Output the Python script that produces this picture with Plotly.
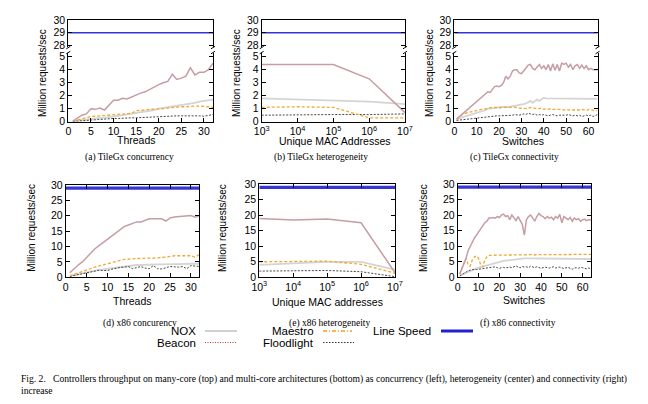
import plotly.graph_objects as go

# ---------------- data ----------------
threads = list(range(1, 33))
switches = list(range(1, 65))
macs = [1e3, 1e4, 1e5, 1e6, 1e7]
mac_ticktext = ["10<sup>3</sup>", "10<sup>4</sup>", "10<sup>5</sup>", "10<sup>6</sup>", "10<sup>7</sup>"]
line_speed = 29.0

# (a) TileGx concurrency
beacon_a = [0.05, 0.3, 0.5, 0.6, 1.0, 0.95, 1.05, 0.9,
            1.3, 1.65, 1.65, 1.8, 1.75, 1.9, 2.1, 2.2,
            2.3, 2.5, 2.7, 2.85, 3.0, 3.1, 3.65, 3.25,
            3.35, 3.5, 4.15, 3.6, 3.8, 3.8, 4.0, 4.5]
nox_a = [0.05, 0.1, 0.15, 0.2, 0.22, 0.25, 0.3, 0.32,
         0.35, 0.4, 0.45, 0.5, 0.55, 0.6, 0.68, 0.72,
         0.78, 0.85, 0.9, 1.0, 1.05, 1.1, 1.15, 1.2,
         1.3, 1.35, 1.4, 1.45, 1.55, 1.6, 1.65, 1.7]
maestro_a = [0.05, 0.15, 0.25, 0.35, 0.4, 0.42, 0.45, 0.45,
             0.5, 0.55, 0.55, 0.6, 0.6, 0.65, 0.85, 0.85,
             0.9, 0.95, 0.95, 1.0, 1.0, 1.05, 1.1, 1.1,
             1.15, 1.15, 1.2, 1.2, 1.2, 1.2, 1.15, 1.1]
flood_a = [0.02, 0.05, 0.08, 0.1, 0.12, 0.15, 0.18, 0.2,
           0.22, 0.25, 0.25, 0.28, 0.28, 0.3, 0.3, 0.32,
           0.35, 0.35, 0.38, 0.4, 0.4, 0.42, 0.42, 0.45,
           0.45, 0.45, 0.48, 0.45, 0.45, 0.42, 0.5, 0.55]

# (b) TileGx heterogeneity
beacon_b = [4.4, 4.4, 4.4, 3.3, 0.7]
nox_b = [1.8, 1.7, 1.65, 1.55, 1.35]
maestro_b = [1.1, 1.15, 1.1, 0.3, 0.3]
flood_b = [0.5, 0.55, 0.55, 0.55, 0.6]

# (c) TileGx connectivity
beacon_c = [0.2, 0.35, 0.5, 0.6, 0.75, 0.9, 1.05, 1.2,
            1.35, 1.5, 1.65, 1.8, 1.95, 2.1, 2.3, 2.25,
            2.5, 2.7, 2.75, 2.7, 2.8, 3.0, 3.5, 3.3,
            3.5, 3.9, 4.0, 4.0, 3.75, 3.7, 3.9, 4.1,
            4.35, 4.4, 4.1, 4.0, 4.2, 4.4, 4.1, 4.3,
            4.0, 4.4, 3.9, 4.45, 3.95, 4.4, 3.9, 4.5,
            4.4, 4.5, 4.2, 4.4, 4.0, 4.3, 4.4, 4.1,
            4.35, 4.1, 4.3, 4.0, 4.1, 4.0, 4.0, 4.0]
nox_c = [0.2, 0.25, 0.3, 0.35, 0.4, 0.45, 0.5, 0.55,
         0.6, 0.65, 0.7, 0.75, 0.8, 0.9, 1.0, 1.0,
         1.05, 1.05, 1.1, 1.1, 1.1, 1.1, 1.15, 1.15,
         1.15, 1.2, 1.2, 1.25, 1.3, 1.3, 1.35, 1.4,
         1.5, 1.6, 1.45, 1.55, 1.7, 1.6, 1.75, 1.85,
         1.8, 1.8, 1.8, 1.8, 1.8, 1.8, 1.8, 1.8,
         1.8, 1.8, 1.8, 1.8, 1.8, 1.8, 1.8, 1.8,
         1.8, 1.8, 1.8, 1.8, 1.8, 1.8, 1.8, 1.75]
maestro_c = [0.2, 0.35, 0.5, 0.6, 0.65, 0.7, 0.75, 0.8,
             0.85, 0.85, 0.9, 0.95, 0.95, 1.0, 1.05, 1.05,
             1.1, 1.1, 1.05, 1.05, 1.1, 1.1, 1.1, 1.1,
             1.1, 1.15, 1.1, 1.1, 1.05, 1.05, 1.0, 1.05,
             1.0, 1.1, 1.05, 1.05, 1.0, 1.0, 1.05, 0.95,
             1.0, 0.95, 1.0, 0.95, 0.95, 1.0, 0.95, 0.95,
             0.9, 0.95, 0.9, 0.95, 0.9, 0.9, 0.85, 0.9,
             0.95, 0.9, 0.85, 0.95, 0.9, 0.85, 0.85, 0.85]
flood_c = [0.1, 0.12, 0.15, 0.17, 0.2, 0.22, 0.25, 0.25,
           0.28, 0.3, 0.32, 0.33, 0.35, 0.35, 0.38, 0.4,
           0.4, 0.42, 0.45, 0.45, 0.45, 0.48, 0.5, 0.45,
           0.5, 0.5, 0.55, 0.5, 0.5, 0.55, 0.6, 0.55,
           0.65, 0.6, 0.55, 0.6, 0.5, 0.55, 0.5, 0.55,
           0.5, 0.45, 0.5, 0.55, 0.5, 0.45, 0.5, 0.5,
           0.45, 0.5, 0.55, 0.5, 0.45, 0.5, 0.45, 0.5,
           0.4, 0.45, 0.5, 0.45, 0.5, 0.4, 0.45, 0.55]

# (d) x86 concurrency
beacon_d = [1.5, 2.8, 4.0, 5.0, 6.5, 7.8, 9.3, 10.3,
            11.3, 12.5, 13.5, 14.5, 15.5, 16.5, 17.0, 17.5,
            18.0, 18.0, 18.5, 19.0, 19.0, 19.0, 19.0, 18.3,
            19.3, 19.6, 19.7, 19.8, 19.9, 20.1, 19.5, 20.0]
nox_d = [0.5, 0.8, 1.0, 1.3, 1.6, 1.9, 2.2, 2.4,
         2.6, 2.8, 3.0, 3.2, 3.4, 3.6, 3.8, 3.9,
         4.0, 4.0, 4.1, 4.1, 4.2, 4.2, 4.2, 4.3,
         4.3, 4.3, 4.3, 4.4, 4.4, 4.4, 4.4, 4.4]
maestro_d = [0.5, 1.0, 1.5, 2.0, 2.5, 2.9, 3.3, 3.7,
             4.1, 4.5, 4.9, 5.2, 5.5, 5.8, 6.0, 6.0,
             6.1, 6.1, 6.2, 6.2, 6.3, 6.3, 6.4, 6.6,
             7.0, 7.0, 7.0, 7.1, 7.0, 7.0, 6.5, 7.5]
flood_d = [0.3, 0.6, 0.9, 1.2, 1.5, 1.8, 2.1, 2.3,
           2.2, 2.2, 2.6, 3.0, 3.2, 3.3, 3.5, 2.8,
           3.2, 3.5, 3.0, 2.8, 3.8, 2.8, 2.7, 3.0,
           3.5, 3.4, 3.3, 3.5, 2.8, 3.8, 3.6, 3.5]

# (e) x86 heterogeneity
beacon_e = [19.0, 18.5, 18.8, 17.6, 1.5]
nox_e = [4.0, 4.5, 5.0, 5.0, 2.5]
maestro_e = [5.0, 5.2, 5.2, 4.2, 1.3]
flood_e = [2.0, 2.2, 2.2, 1.8, 0.2]

# (f) x86 connectivity
beacon_f = [1.0, 2.5, 4.0, 6.0, 8.5, 10.0, 11.5, 12.5,
            13.5, 14.5, 15.5, 16.5, 17.5, 18.0, 19.0, 19.0,
            19.2, 19.0, 19.5, 19.2, 20.0, 20.3, 19.5, 19.8,
            18.5, 20.0, 19.0, 18.2, 19.5, 18.0, 17.0, 13.5,
            18.5, 19.5, 20.0, 19.0, 18.0, 19.5, 20.5, 19.8,
            19.5, 18.8, 19.5, 19.0, 19.3, 18.5, 19.5, 19.0,
            20.2, 17.5, 19.5, 19.0, 18.5, 19.2, 18.0, 19.0,
            18.5, 18.8, 18.0, 18.5, 18.6, 18.2, 18.5, 18.3]
nox_f = [0.5, 0.8, 1.1, 1.4, 1.7, 2.0, 2.3, 2.5,
         2.8, 3.0, 3.2, 3.4, 3.6, 3.8, 4.0, 4.2,
         4.4, 4.6, 4.8, 5.0, 5.1, 5.2, 5.3, 5.4,
         5.5, 5.6, 5.7, 5.8, 5.9, 6.0, 6.0, 6.0,
         6.0, 6.0, 6.0, 6.0, 6.0, 6.0, 6.0, 6.0,
         6.0, 6.0, 6.0, 6.0, 6.0, 6.0, 6.0, 6.0,
         6.0, 6.0, 6.0, 6.0, 6.0, 5.9, 5.9, 5.9,
         5.9, 5.9, 5.8, 5.8, 5.8, 5.8, 5.8, 5.8]
maestro_f = [1.0, 3.0, 4.5, 6.0, 4.0, 3.5, 5.5, 6.5,
             6.8, 6.0, 4.0, 3.2, 5.5, 6.5, 7.0, 7.0,
             7.0, 7.1, 7.0, 7.1, 7.0, 7.2, 7.1, 7.0,
             7.1, 7.2, 7.1, 7.0, 7.2, 7.1, 7.2, 7.1,
             7.2, 7.1, 7.2, 7.3, 7.1, 7.2, 7.2, 7.1,
             7.2, 7.3, 7.2, 7.1, 7.2, 7.3, 7.2, 7.2,
             7.3, 7.2, 7.2, 7.3, 7.2, 7.3, 7.2, 7.3,
             7.3, 7.2, 7.3, 7.3, 7.2, 7.3, 7.3, 7.3]
flood_f = [0.3, 0.8, 1.2, 1.6, 2.0, 2.2, 2.4, 2.5,
           2.4, 2.5, 2.6, 2.8, 2.9, 3.0, 3.1, 3.2,
           3.4, 3.3, 3.0, 2.8, 3.0, 3.1, 2.9, 3.0,
           3.2, 3.0, 3.3, 3.6, 3.2, 3.0, 3.4, 3.2,
           3.3, 3.0, 3.5, 3.2, 3.0, 3.3, 3.1, 2.8,
           3.0, 3.2, 3.0, 2.9, 3.1, 3.3, 2.9, 3.0,
           3.2, 3.0, 2.7, 3.0, 3.1, 2.8, 2.5, 2.9,
           3.0, 2.8, 3.1, 3.0, 2.8, 2.6, 2.9, 2.5]

legend_names = ["NOX", "Beacon", "Maestro", "Floodlight", "Line Speed"]
subcaptions = ["(a) TileGx concurrency", "(b) TileGx heterogeneity", "(c) TileGx connectivity",
               "(d) x86 concurency", "(e) x86 heterogeneity", "(f) x86 connectivity"]
ytitle = "Million requests/sec"
fig_caption = ("Fig. 2.&nbsp;&nbsp;&nbsp;Controllers throughput on many-core (top) and multi-core architectures "
               "(bottom) as concurrency (left), heterogeneity (center) and connectivity (right)<br>increase")

# ---------------- styling ----------------
W, H = 648, 404
def fx(px): return px / W
def fy(py): return 1 - py / H

SANS = "Liberation Sans, Arial, Helvetica, sans-serif"
SERIF = "Liberation Serif, Times New Roman, serif"

S_NOX = dict(color="#d4d4d4", width=1.8)
S_BEACON = dict(color="#c89ca3", width=1.5)
S_MAESTRO = dict(color="#f2a735", width=1.3, dash="3px,2px")
S_FLOOD = dict(color="#474747", width=1.0, dash="2px,1.5px")
S_LS_TOP = dict(color="#3434d2", width=1.6)
S_LS_BOT = dict(color="#3636d6", width=3.2)

fig = go.Figure()
layout = {}
shapes = []
annotations = []

def add(xs, ys, style, n):
    fig.add_trace(go.Scatter(x=xs, y=ys, mode="lines", line=style,
                             xaxis="x" if n == 1 else f"x{n}",
                             yaxis="y" if n == 1 else f"y{n}",
                             showlegend=False, hoverinfo="skip"))

def akey(kind, n):
    return kind + ("" if n == 1 else str(n))

TICKFONT = dict(family=SANS, size=10.5, color="black")

def base_axis():
    return dict(showline=True, linecolor="black", linewidth=1, ticks="inside", ticklen=4,
                tickcolor="black", showgrid=False, zeroline=False, tickfont=TICKFONT,
                automargin=False)

# top row broken-axis charts
top_cfg = [
    dict(x0=68.3, x1=213, xr=[0, 32], xs=threads, dtick=5, log=False,
         series=(nox_a, flood_a, maestro_a, beacon_a)),
    dict(x0=261.7, x1=405, xr=[3, 7], xs=macs, dtick=None, log=True,
         series=(nox_b, flood_b, maestro_b, beacon_b)),
    dict(x0=454.3, x1=597.5, xr=[0, 64], xs=switches, dtick=10, log=False,
         series=(nox_c, flood_c, maestro_c, beacon_c)),
]
UP_Y = (20, 47.3)
LO_Y = (52.8, 121.7)

n = 1
for cfg in top_cfg:
    nu, nl = n, n + 1
    xdom = [fx(cfg["x0"]), fx(cfg["x1"])]
    # upper panel
    xa = base_axis()
    xa.update(domain=xdom, range=cfg["xr"], anchor=akey("y", nu), side="top",
              showticklabels=False, ticks="")
    if cfg["log"]:
        xa["type"] = "log"
    ya = base_axis()
    ya.update(domain=[fy(UP_Y[1]), fy(UP_Y[0])], range=[27.85, 30], anchor=akey("x", nu),
              tickvals=[28, 29, 30], mirror="ticks")
    layout[akey("xaxis", nu)] = xa
    layout[akey("yaxis", nu)] = ya
    # lower panel
    xb = base_axis()
    xb.update(domain=xdom, range=cfg["xr"], anchor=akey("y", nl))
    if cfg["log"]:
        xb.update(type="log", tickvals=macs, ticktext=mac_ticktext)
    else:
        xb["dtick"] = cfg["dtick"]
        xb["tick0"] = 0
    yb = base_axis()
    yb.update(domain=[fy(LO_Y[1]), fy(LO_Y[0])], range=[0, 5.3], anchor=akey("x", nl),
              tickvals=[0, 1, 2, 3, 4, 5], mirror="ticks")
    layout[akey("xaxis", nl)] = xb
    layout[akey("yaxis", nl)] = yb

    xr = cfg["xr"]
    lx = [10 ** xr[0], 10 ** xr[1]] if cfg["log"] else xr
    add(lx, [line_speed, line_speed], S_LS_TOP, nu)
    nox, flood, maestro, beacon = cfg["series"]
    add(cfg["xs"], nox, S_NOX, nl)
    add(cfg["xs"], flood, S_FLOOD, nl)
    add(cfg["xs"], maestro, S_MAESTRO, nl)
    add(cfg["xs"], beacon, S_BEACON, nl)

    # break marks
    for bx in (cfg["x0"], cfg["x1"]):
        shapes.append(dict(type="line", xref="paper", yref="paper",
                           x0=fx(bx - 2), y0=fy(UP_Y[1] + 1.5), x1=fx(bx + 2), y1=fy(UP_Y[1] - 1),
                           line=dict(color="black", width=1)))
        shapes.append(dict(type="line", xref="paper", yref="paper",
                           x0=fx(bx - 2), y0=fy(LO_Y[0] + 1), x1=fx(bx + 2), y1=fy(LO_Y[0] - 1.5),
                           line=dict(color="black", width=1)))
    n += 2

# bottom row charts
bot_cfg = [
    dict(x0=65.7, x1=199.3, y0=185, y1=277.3, xr=[0, 32], xs=threads, dtick=5, log=False,
         series=(nox_d, flood_d, maestro_d, beacon_d)),
    dict(x0=259.3, x1=395, y0=184.3, y1=277.3, xr=[3, 7], xs=macs, dtick=None, log=True,
         series=(nox_e, flood_e, maestro_e, beacon_e)),
    dict(x0=457.7, x1=591, y0=184, y1=277, xr=[0, 64], xs=switches, dtick=10, log=False,
         series=(nox_f, flood_f, maestro_f, beacon_f)),
]
for cfg in bot_cfg:
    xa = base_axis()
    xa.update(domain=[fx(cfg["x0"]), fx(cfg["x1"])], range=cfg["xr"], anchor=akey("y", n),
              mirror="ticks")
    if cfg["log"]:
        xa.update(type="log", tickvals=macs, ticktext=mac_ticktext)
    else:
        xa["dtick"] = cfg["dtick"]
        xa["tick0"] = 0
    ya = base_axis()
    ya.update(domain=[fy(cfg["y1"]), fy(cfg["y0"])], range=[0, 30], anchor=akey("x", n),
              dtick=5, tick0=0, mirror="ticks")
    layout[akey("xaxis", n)] = xa
    layout[akey("yaxis", n)] = ya
    nox, flood, maestro, beacon = cfg["series"]
    add(cfg["xs"], nox, S_NOX, n)
    add(cfg["xs"], flood, S_FLOOD, n)
    add(cfg["xs"], maestro, S_MAESTRO, n)
    add(cfg["xs"], beacon, S_BEACON, n)
    xr = cfg["xr"]
    lx = [10 ** xr[0], 10 ** xr[1]] if cfg["log"] else xr
    add(lx, [line_speed, line_speed], S_LS_BOT, n)
    n += 1

def text(x, y, s, size, family=SANS, anchor="center", angle=0):
    annotations.append(dict(x=fx(x), y=fy(y), xref="paper", yref="paper", text=s,
                            showarrow=False, xanchor=anchor, yanchor="middle",
                            textangle=angle, font=dict(family=family, size=size, color="black")))

# y titles
for (x, y) in [(43, 73), (237, 73), (430, 73), (31.7, 228), (223, 228), (424, 228)]:
    text(x, y, ytitle, 10, angle=-90)
# x titles
for (x, y, s) in [(136, 139.5, "Threads"), (334, 141, "Unique MAC Addresses"), (523, 141, "Switches"),
                  (132, 300.7, "Threads"), (327, 301.7, "Unique MAC addresses"), (524, 300, "Switches")]:
    text(x, y, s, 10.5)
# subplot captions
for (x, y), s in zip([(129, 157), (321, 157), (514, 157), (140, 323), (329, 323), (518, 323)], subcaptions):
    text(x, y, s, 9.5, family=SERIF)

# legend
leg = [
    (198, 331, 205, 237, legend_names[0], dict(color="#d0d0d0", width=2)),
    (198, 342.5, 205, 237, legend_names[1], dict(color="#c0392b", width=1.2, dash="1px,1.5px")),
    (316, 331, 323, 352, legend_names[2], dict(color="#f5a020", width=1.5, dash="4px,2px,1px,2px")),
    (316, 342.5, 323, 354, legend_names[3], dict(color="#333333", width=1.2, dash="1.5px,1.5px")),
    (433, 331, 441, 473, legend_names[4], dict(color="#2020d0", width=3)),
]
for tx, ty, l0, l1, name, st in leg:
    text(tx, ty, name, 11.5, anchor="right")
    shapes.append(dict(type="line", xref="paper", yref="paper", x0=fx(l0), x1=fx(l1),
                       y0=fy(ty), y1=fy(ty), line=st))

# figure caption
annotations.append(dict(x=fx(19), y=fy(371), xref="paper", yref="paper", text=fig_caption,
                        showarrow=False, xanchor="left", yanchor="top", align="left",
                        font=dict(family=SERIF, size=9.6, color="black")))

layout.update(template="none", width=W, height=H, margin=dict(l=0, r=0, t=0, b=0, autoexpand=False),
              paper_bgcolor="white", plot_bgcolor="white", showlegend=False,
              shapes=shapes, annotations=annotations, font=dict(family=SANS))
fig.update_layout(**layout)
fig.write_html("out.html")
